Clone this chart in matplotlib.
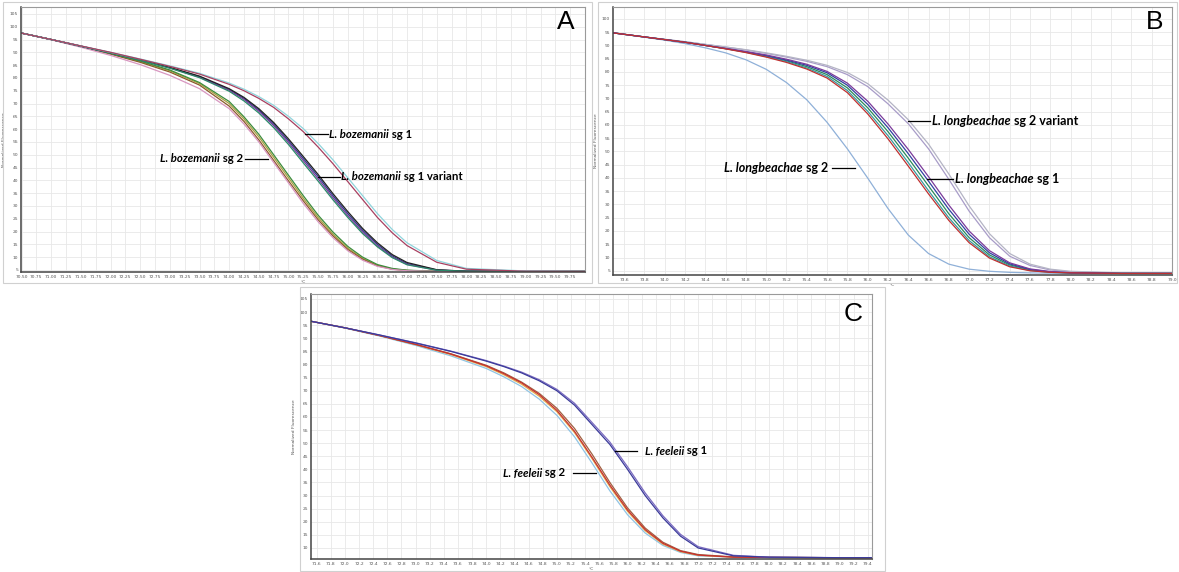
import matplotlib
matplotlib.use('Agg')
import matplotlib.pyplot as plt
from matplotlib.patches import Rectangle
from matplotlib.lines import Line2D
import numpy as np

# ---------------- panel A : L. bozemanii ----------------
tA = [70.5, 71.0, 71.5, 72.0, 72.5, 73.0, 73.5, 74.0, 74.25, 74.5, 74.75, 75.0,
      75.25, 75.5, 75.75, 76.0, 76.25, 76.5, 76.75, 77.0, 77.5, 78.0, 79.0, 80.0]
A_sg2 = [
    [97.5, 95.0, 92.3, 89.5, 86.4, 82.8, 77.8, 70.0, 64.0, 57.0, 49.0, 41.0, 33.0, 25.5, 19.0, 13.5, 9.5, 6.8, 5.4, 4.8, 4.5, 4.4, 4.4, 4.4],
    [97.5, 95.0, 92.2, 89.3, 86.1, 82.3, 77.2, 69.0, 63.0, 55.8, 47.8, 39.8, 32.0, 24.6, 18.3, 13.0, 9.2, 6.6, 5.3, 4.8, 4.5, 4.4, 4.4, 4.4],
    [97.5, 95.0, 92.4, 89.6, 86.6, 83.1, 78.2, 70.8, 64.8, 58.0, 50.0, 42.0, 34.0, 26.4, 19.8, 14.2, 10.0, 7.1, 5.6, 4.9, 4.5, 4.4, 4.4, 4.4],
    [97.5, 94.9, 92.0, 88.8, 85.2, 81.0, 75.8, 68.0, 62.0, 55.0, 47.0, 39.0, 31.0, 23.8, 17.6, 12.5, 8.8, 6.4, 5.2, 4.7, 4.5, 4.4, 4.4, 4.4],
]
A_sg2_colors = ['#a8a040', '#8b5a2b', '#3c8c3c', '#d896c0']
A_var = [
    [97.5, 95.0, 92.4, 89.8, 87.0, 84.0, 80.5, 75.5, 72.0, 67.5, 62.0, 55.5, 48.5, 41.5, 34.0, 27.0, 20.5, 15.0, 10.5, 7.5, 5.0, 4.5, 4.4, 4.4],
    [97.5, 95.0, 92.4, 89.8, 87.0, 83.9, 80.3, 75.2, 71.6, 67.0, 61.4, 54.8, 47.7, 40.6, 33.2, 26.2, 19.8, 14.4, 10.1, 7.2, 4.9, 4.5, 4.4, 4.4],
    [97.5, 95.0, 92.4, 89.8, 87.1, 84.1, 80.7, 75.8, 72.4, 68.0, 62.6, 56.2, 49.3, 42.3, 34.8, 27.8, 21.2, 15.6, 11.0, 7.9, 5.1, 4.5, 4.4, 4.4],
    [97.5, 95.0, 92.4, 89.7, 86.9, 83.8, 80.1, 74.8, 71.0, 66.3, 60.6, 54.0, 46.8, 39.7, 32.4, 25.5, 19.2, 14.0, 9.8, 7.0, 4.9, 4.5, 4.4, 4.4],
]
A_var_colors = ['#2b3a8c', '#7a3c9a', '#222222', '#2a8a6a']
A_sg1 = [
    [97.5, 95.0, 92.5, 90.0, 87.4, 84.7, 81.8, 78.0, 75.6, 72.7, 69.3, 65.0, 60.2, 54.4, 48.0, 41.0, 34.0, 27.0, 20.8, 15.6, 8.7, 5.6, 4.6, 4.4],
    [97.5, 95.0, 92.5, 90.0, 87.3, 84.5, 81.5, 77.5, 75.0, 72.0, 68.5, 64.0, 59.0, 53.0, 46.5, 39.5, 32.5, 25.5, 19.5, 14.5, 8.0, 5.3, 4.5, 4.4],
]
A_sg1_colors = ['#8fd4dc', '#a84060']

# ---------------- panel B : L. longbeachae ----------------
tB = [73.5, 73.8, 74.0, 74.2, 74.4, 74.6, 74.8, 75.0, 75.2, 75.4, 75.6, 75.8, 76.0,
      76.2, 76.4, 76.6, 76.8, 77.0, 77.2, 77.4, 77.6, 77.8, 78.0, 78.5, 79.0]
B_sg2 = [94.7, 93.1, 92.0, 90.7, 89.1, 87.2, 84.6, 81.0, 76.0, 69.5, 61.0, 51.0, 40.0,
         28.5, 18.5, 11.5, 7.5, 5.6, 4.8, 4.4, 4.2, 4.1, 4.0, 4.0, 4.0]
B_sg1 = [
    [94.7, 93.2, 92.2, 91.2, 90.0, 88.8, 87.5, 86.0, 84.2, 82.0, 79.0, 74.0, 66.5, 57.5, 47.5, 37.0, 26.5, 17.5, 11.0, 7.2, 5.3, 4.5, 4.2, 4.0, 4.0],
    [94.7, 93.2, 92.2, 91.2, 90.0, 88.8, 87.4, 85.8, 83.9, 81.5, 78.3, 73.0, 65.2, 56.0, 45.8, 35.2, 25.0, 16.4, 10.3, 6.8, 5.1, 4.4, 4.2, 4.0, 4.0],
    [94.7, 93.2, 92.2, 91.2, 90.0, 88.8, 87.6, 86.2, 84.5, 82.5, 79.7, 75.0, 67.8, 59.0, 49.2, 38.8, 28.2, 18.8, 11.8, 7.6, 5.5, 4.6, 4.2, 4.0, 4.0],
    [94.7, 93.2, 92.2, 91.2, 90.0, 88.9, 87.7, 86.4, 84.8, 82.9, 80.2, 75.8, 69.0, 60.4, 50.8, 40.5, 29.8, 20.0, 12.6, 8.0, 5.7, 4.7, 4.3, 4.0, 4.0],
    [94.7, 93.2, 92.2, 91.2, 90.0, 88.7, 87.3, 85.6, 83.6, 81.1, 77.7, 72.2, 64.2, 54.8, 44.5, 34.0, 24.0, 15.6, 9.8, 6.5, 5.0, 4.4, 4.2, 4.0, 4.0],
]
B_sg1_colors = ['#2a8a5a', '#3a9aa0', '#3040a0', '#7a3a9a', '#c03030']
B_var = [
    [94.7, 93.2, 92.3, 91.4, 90.4, 89.4, 88.3, 87.0, 85.6, 84.0, 82.0, 79.0, 74.5, 68.0, 60.5, 51.0, 39.5, 27.5, 17.5, 10.5, 7.0, 5.3, 4.6, 4.1, 4.0],
    [94.7, 93.2, 92.3, 91.4, 90.4, 89.4, 88.4, 87.2, 85.9, 84.4, 82.5, 79.8, 75.6, 69.4, 62.0, 52.8, 41.5, 29.5, 19.0, 11.5, 7.5, 5.6, 4.8, 4.2, 4.0],
]
B_var_colors = ['#a89cc8', '#b4b4c4']

# ---------------- panel C : L. feeleii ----------------
tC = [71.5, 72.0, 72.5, 73.0, 73.5, 74.0, 74.25, 74.5, 74.75, 75.0, 75.25, 75.5,
      75.75, 76.0, 76.25, 76.5, 76.75, 77.0, 77.5, 78.0, 79.0, 79.5]
C_sg2 = [
    [96.6, 93.9, 90.8, 87.3, 83.3, 78.5, 75.3, 71.6, 66.8, 60.6, 52.4, 42.3, 31.8, 22.7, 15.7, 11.0, 8.3, 7.0, 6.5, 6.4, 6.3, 6.3],
    [96.6, 94.0, 91.0, 87.6, 83.8, 79.2, 76.1, 72.5, 67.9, 62.0, 54.0, 44.0, 33.4, 24.0, 16.6, 11.5, 8.6, 7.2, 6.5, 6.4, 6.3, 6.3],
    [96.6, 94.0, 91.0, 87.7, 84.1, 79.7, 76.8, 73.3, 69.0, 63.3, 55.6, 45.7, 35.0, 25.3, 17.6, 12.2, 9.0, 7.5, 6.6, 6.4, 6.3, 6.3],
    [96.6, 94.0, 91.0, 87.7, 84.0, 79.5, 76.5, 73.0, 68.5, 62.5, 54.5, 44.5, 34.0, 24.5, 17.0, 11.8, 8.8, 7.3, 6.5, 6.4, 6.3, 6.3],
]
C_sg2_colors = ['#90c4e4', '#e0a848', '#a06040', '#c83030']
C_sg1 = [
    [96.6, 94.0, 91.2, 88.3, 85.1, 81.5, 79.4, 77.1, 74.2, 70.5, 65.2, 57.8, 50.4, 41.0, 31.0, 22.3, 15.2, 10.5, 7.2, 6.5, 6.3, 6.3],
    [96.6, 94.0, 91.2, 88.2, 85.0, 81.3, 79.2, 76.8, 73.8, 70.0, 64.5, 57.0, 49.5, 40.0, 30.0, 21.5, 14.5, 10.0, 7.0, 6.5, 6.3, 6.3],
]
C_sg1_colors = ['#7a6ac0', '#3a3a9a']

W, H = 1179, 572
fig = plt.figure(figsize=(W / 100, H / 100), dpi=100)


def fx(x):
    return x / W


def fy(y):
    return 1 - y / H


def rect(l, t, r, b):
    return [fx(l), fy(b), (r - l) / W, (b - t) / H]


# panel frames (grey window borders)
for l, t, r, b in [(3, 2, 592, 283), (598, 2, 1177, 283), (300, 287, 885, 571)]:
    fig.add_artist(Rectangle((fx(l), fy(b)), (r - l) / W, (b - t) / H,
                             transform=fig.transFigure, fill=False,
                             edgecolor='#d0d0d0', lw=0.8))


def style(ax, xticks, yticks, xfmt, xlim, ylim):
    ax.set_xlim(*xlim)
    ax.set_ylim(*ylim)
    ax.set_xticks(xticks)
    ax.set_xticklabels([xfmt % v for v in xticks])
    ax.set_yticks(yticks)
    ax.set_yticklabels(['%d' % v for v in yticks])
    ax.tick_params(labelsize=3.2, labelcolor='#555555', length=0, pad=2)
    ax.grid(True, color='#e8e8e8', lw=0.6)
    ax.set_axisbelow(True)
    for s in ['left', 'bottom']:
        ax.spines[s].set_color('#444444')
        ax.spines[s].set_linewidth(1.1)
    for s in ['top', 'right']:
        ax.spines[s].set_color('#9a9a9a')
        ax.spines[s].set_linewidth(0.8)
    ax.set_ylabel('Normalized Fluorescence', fontsize=3.2, color='#555555', labelpad=3)
    ax.set_xlabel('°C', fontsize=3.2, color='#555555', labelpad=1)


lw = 0.9

# A
axA = fig.add_axes(rect(21, 7, 585, 272))
for ys, c in zip(A_sg2, A_sg2_colors):
    axA.plot(tA, ys, color=c, lw=lw)
for ys, c in zip(A_var, A_var_colors):
    axA.plot(tA, ys, color=c, lw=lw)
for ys, c in zip(A_sg1, A_sg1_colors):
    axA.plot(tA, ys, color=c, lw=lw)
style(axA, np.arange(70.5, 79.76, 0.25), np.arange(5, 106, 5), '%.2f',
      (70.49, 80.0), (4.2, 107.7))

# B
axB = fig.add_axes(rect(613, 7, 1172, 275))
axB.plot(tB, B_sg2, color='#8fb0d8', lw=lw)
for ys, c in zip(B_var, B_var_colors):
    axB.plot(tB, ys, color=c, lw=lw)
for ys, c in zip(B_sg1, B_sg1_colors):
    axB.plot(tB, ys, color=c, lw=lw)
style(axB, np.arange(73.6, 79.01, 0.2), np.arange(5, 101, 5), '%.1f',
      (73.49, 79.0), (3.4, 104.5))

# C
axC = fig.add_axes(rect(311, 294, 872, 559))
for ys, c in zip(C_sg2, C_sg2_colors):
    axC.plot(tC, ys, color=c, lw=lw)
for ys, c in zip(C_sg1, C_sg1_colors):
    axC.plot(tC, ys, color=c, lw=lw)
style(axC, np.arange(71.6, 79.41, 0.2), np.arange(10, 106, 5), '%.1f',
      (71.52, 79.46), (5.8, 106.9))

# panel letters
for s, x, y in [('A', 566, 22), ('B', 1155, 22), ('C', 853, 314)]:
    fig.text(fx(x), fy(y), s, fontsize=19, family='Liberation Sans',
             ha='center', va='center')

FAM = 'Lato'


def label_left(x, y, species, rest, x0, x1, fs):
    # leader line on the left, text to the right
    fig.add_artist(Line2D([fx(x0), fx(x1)], [fy(y), fy(y)], color='black', lw=0.9,
                          transform=fig.transFigure))
    t1 = fig.text(fx(x), fy(y), species, fontsize=fs, family=FAM, weight='bold',
                  style='italic', ha='left', va='center')
    fig.add_artist(matplotlib.text.Annotation(rest, xy=(1, 0), xycoords=t1,
                                              fontsize=fs, family=FAM, weight='bold',
                                              ha='left', va='bottom'))


def label_right(x, y, species, rest, x0, x1, fs):
    # text on the left ending at x, leader line to the right
    fig.add_artist(Line2D([fx(x0), fx(x1)], [fy(y), fy(y)], color='black', lw=0.9,
                          transform=fig.transFigure))
    t2 = fig.text(fx(x), fy(y), rest, fontsize=fs, family=FAM, weight='bold',
                  ha='right', va='center')
    fig.add_artist(matplotlib.text.Annotation(species, xy=(0, 0), xycoords=t2,
                                              fontsize=fs, family=FAM, weight='bold',
                                              style='italic', ha='right', va='bottom'))


label_left(329, 134, 'L. bozemanii', ' sg 1', 305, 328, 8.2)
label_left(341, 177, 'L. bozemanii', ' sg 1 variant', 318, 340, 8.2)
label_right(243, 159, 'L. bozemanii', ' sg 2', 245, 268, 8.2)

label_left(932, 121, 'L. longbeachae', ' sg 2 variant', 908, 930, 9.0)
label_right(828, 168, 'L. longbeachae', ' sg 2', 832, 855, 9.0)
label_left(955, 179, 'L. longbeachae', ' sg 1', 927, 953, 9.0)

label_left(645, 451, 'L. feeleii', ' sg 1', 615, 637, 8.2)
label_right(565, 473, 'L. feeleii', ' sg 2', 573, 596, 8.2)

fig.savefig('out.png', dpi=100)
